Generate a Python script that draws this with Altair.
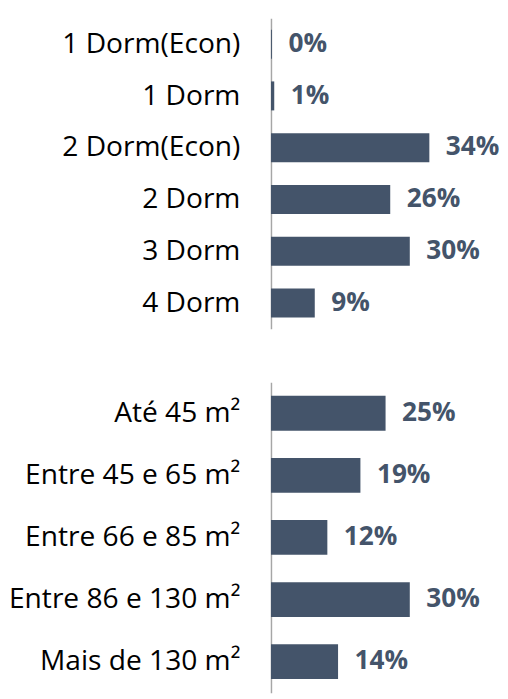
import altair as alt
import pandas as pd

cats_top = ["1 Dorm(Econ)", "1 Dorm", "2 Dorm(Econ)", "2 Dorm", "3 Dorm", "4 Dorm"]
vals_top = [0.2, 0.7, 34.0, 25.6, 29.8, 9.4]

cats_bot = ["Até 45 m²", "Entre 45 e 65 m²", "Entre 66 e 85 m²", "Entre 86 e 130 m²", "Mais de 130 m²"]
vals_bot = [24.6, 19.2, 12.1, 29.8, 14.4]

BAR = "#44546A"
FONT = "Open Sans"


def panel(cats, vals):
    df = pd.DataFrame({"cat": cats, "v": vals})
    base = alt.Chart(df).transform_calculate(
        lbl="format(datum.v, '.0f') + '%'"
    )
    y = alt.Y(
        "cat:N",
        sort=cats,
        title=None,
        scale=alt.Scale(paddingInner=0.44, paddingOuter=0.22),
        axis=alt.Axis(
            ticks=False,
            labelPadding=32,
            labelFont=FONT,
            labelFontSize=29,
            labelColor="#000000",
            labelLimit=300,
            domainColor="#A6A6A6",
            domainWidth=1.5,
            grid=False,
        ),
    )
    x = alt.X("v:Q", axis=None, scale=alt.Scale(domain=[0, 47.5]))
    bars = base.mark_bar(color=BAR).encode(x=x, y=y)
    text = base.mark_text(
        align="left", baseline="middle", dx=17, font=FONT, fontSize=27,
        fontWeight="bold", color=BAR
    ).encode(x=x, y=alt.Y("cat:N", sort=cats), text="lbl:N")
    return (bars + text).properties(width=228, height=320)


chart = alt.vconcat(
    panel(cats_top, vals_top), panel(cats_bot, vals_bot), spacing=55
).properties(padding=0).configure_view(stroke=None)

chart.save("out.html", embed_options={"renderer": "svg", "actions": False})
